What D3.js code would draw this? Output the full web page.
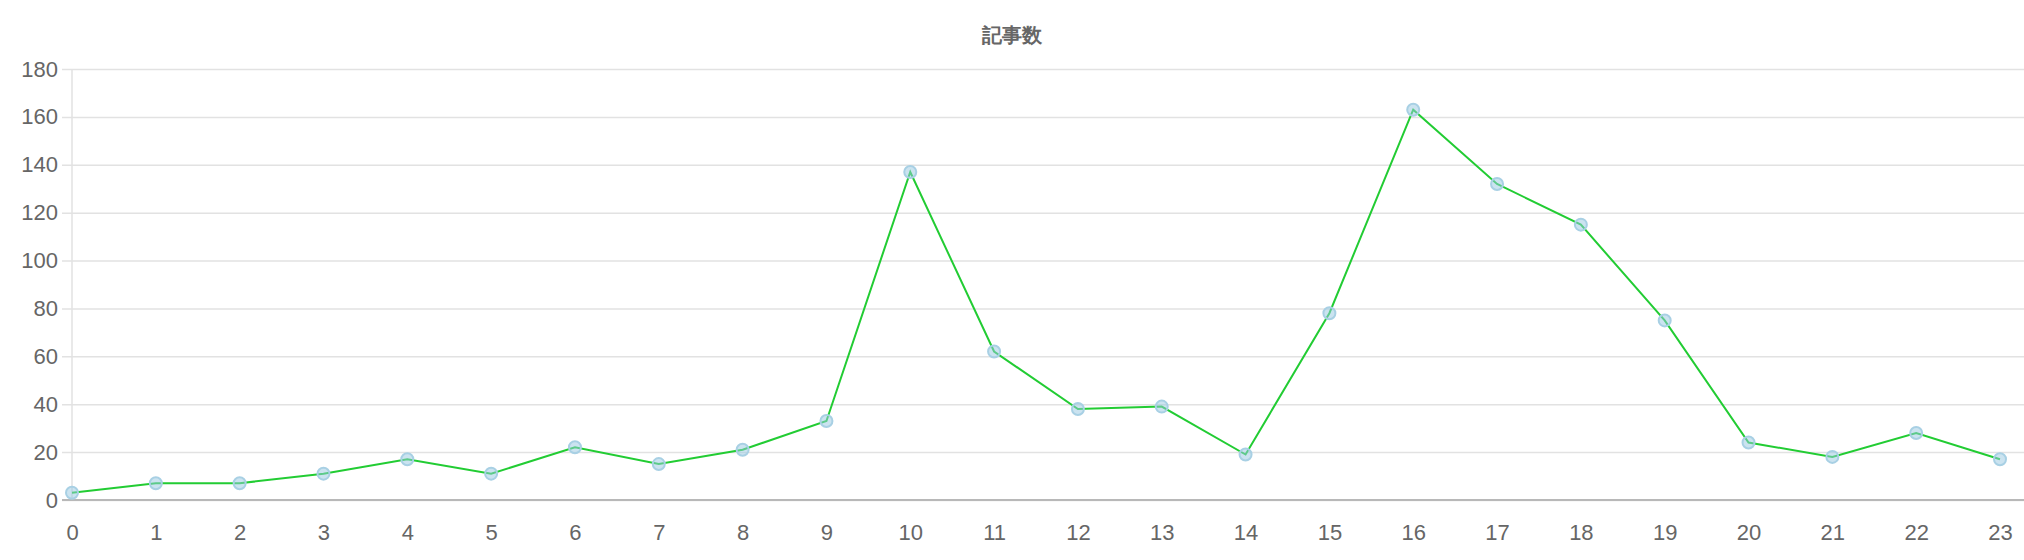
<!DOCTYPE html>
<html><head><meta charset="utf-8">
<script src="https://cdn.jsdelivr.net/npm/d3@7"></script>
<style>body{margin:0;background:#fff}text{font-family:"Liberation Sans",Arial,sans-serif;fill:#666}</style>
</head><body><svg id="chart" width="2024" height="560"></svg>
<script>
var hours = d3.range(0, 24);
var counts = [3, 7, 7, 11, 17, 11, 22, 15, 21, 33, 137, 62, 38, 39, 19, 78, 163, 132, 115, 75, 24, 18, 28, 17];
var yTicks = [0, 20, 40, 60, 80, 100, 120, 140, 160, 180];
var title = "記事数";

var svg = d3.select("#chart");
var plotLeft = 72, plotRight = 2000, plotTop = 69, plotBottom = 500;
var x = d3.scaleLinear().domain([0, 23]).range([plotLeft, plotRight]);
var y = d3.scaleLinear().domain([0, 180]).range([plotBottom, plotTop]);

svg.append("text").attr("x", 1012).attr("y", 42).attr("text-anchor", "middle")
    .style("font-size", "20px").style("font-weight", "bold").text(title);

var ya = svg.append("g").attr("transform", "translate(" + plotLeft + ",0)")
    .call(d3.axisLeft(y).tickValues(yTicks).tickSize(-(plotRight - plotLeft + 24)).tickPadding(14));
ya.select(".domain").remove();
ya.selectAll("line").attr("stroke", "#e2e2e2").attr("stroke-width", 1.5).attr("x1", -10);
ya.selectAll("text").style("font-size", "22px");

svg.append("line").attr("x1", plotLeft).attr("x2", plotLeft).attr("y1", plotTop).attr("y2", plotBottom)
    .attr("stroke", "#e2e2e2").attr("stroke-width", 1.5);
svg.append("line").attr("x1", plotLeft - 10).attr("x2", plotRight + 24).attr("y1", plotBottom).attr("y2", plotBottom)
    .attr("stroke", "#b8b8b8").attr("stroke-width", 2);

var xa = svg.append("g").attr("transform", "translate(0," + plotBottom + ")")
    .call(d3.axisBottom(x).tickValues(hours).tickFormat(d3.format("d")).tickSize(0).tickPadding(24));
xa.select(".domain").remove();
xa.selectAll("text").style("font-size", "22px");

svg.append("path").datum(counts)
    .attr("d", d3.line().x(function (d, i) { return x(hours[i]); }).y(function (d) { return y(d); }))
    .attr("fill", "none").attr("stroke", "#22cc33").attr("stroke-width", 2);

svg.selectAll(".pt").data(counts).enter().append("circle")
    .attr("cx", function (d, i) { return x(hours[i]); })
    .attr("cy", function (d) { return y(d); })
    .attr("r", 6)
    .attr("fill", "rgba(151,200,225,0.5)").attr("stroke", "#a8d0e4").attr("stroke-width", 2);
</script></body></html>
